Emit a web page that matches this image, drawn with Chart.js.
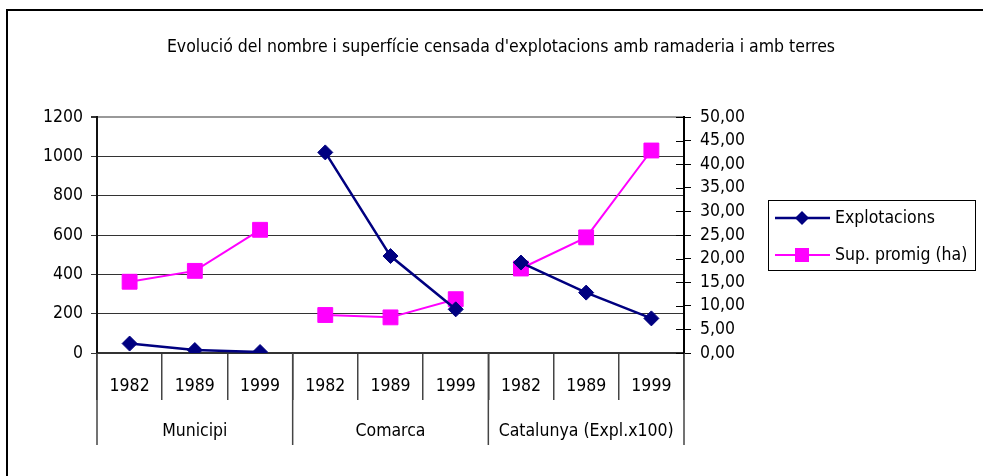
<!DOCTYPE html>
<html>
<head>
<meta charset="utf-8">
<script src="https://cdn.jsdelivr.net/npm/chart.js@4.4.1/dist/chart.umd.min.js"></script>
<style>
  html, body { margin: 0; padding: 0; background: #fff; }
  #wrap { width: 983px; height: 476px; }
</style>
</head>
<body>
<div id="wrap"><canvas id="grafic" width="983" height="476"></canvas></div>
<script>
// dades llegides del gràfic
var titol = "Evolució del nombre i superfície censada d'explotacions amb ramaderia i amb terres";
var anys = ['1982', '1989', '1999'];
var ambits = ['Municipi', 'Comarca', 'Catalunya (Expl.x100)'];
var explotacions = [48, 15, 5, 1020, 493, 222, 460, 307, 176];
var supPromig = [15.1, 17.4, 26.1, 8.05, 7.55, 11.4, 17.9, 24.5, 42.9];
var ticksEsq = [0, 200, 400, 600, 800, 1000, 1200];
var ticksDreta = [0, 5, 10, 15, 20, 25, 30, 35, 40, 45, 50];

var FONT = "'Liberation Sans Narrow', 'Arial Narrow', 'DejaVu Sans Condensed', sans-serif";
var MIDA = 17.5;
Chart.defaults.font.family = FONT;
Chart.defaults.font.size = MIDA;
Chart.defaults.color = '#000';

var etiquetes = [];
for (var g = 0; g < ambits.length; g++) {
    for (var a = 0; a < anys.length; a++) etiquetes.push(anys[a]);
}

// talla la línia entre àmbits
function tall(ctx) {
    return (ctx.p0DataIndex % anys.length === anys.length - 1) ? 'rgba(0,0,0,0)' : undefined;
}

var decorPlugin = {
    id: 'decor',
    beforeDraw: function (chart) {
        var c = chart.ctx;
        c.save();
        c.fillStyle = '#fff';
        c.fillRect(0, 0, chart.width, chart.height);
        c.strokeStyle = '#000';
        c.lineWidth = 2;
        c.strokeRect(7, 10, 1000, 500);
        c.restore();
    },
    afterDraw: function (chart) {
        var c = chart.ctx;
        var x = chart.scales.x, y1 = chart.scales.y1, area = chart.chartArea;
        c.save();
        // títol
        c.fillStyle = '#000';
        c.font = MIDA + 'px ' + FONT;
        c.textAlign = 'center';
        c.textBaseline = 'middle';
        c.fillText(titol, 501, 47);

        // separadors i noms dels àmbits
        c.strokeStyle = '#444';
        c.lineWidth = 1.5;
        var n = anys.length;
        for (var g = 0; g <= ambits.length; g++) {
            var px;
            if (g === 0) px = x.left;
            else if (g === ambits.length) px = x.right;
            else px = (x.getPixelForValue(g * n - 1) + x.getPixelForValue(g * n)) / 2;
            c.beginPath();
            c.moveTo(px, area.bottom);
            c.lineTo(px, 445);
            c.stroke();
        }
        for (var g = 0; g < ambits.length; g++) {
            var cx = (x.getPixelForValue(g * n) + x.getPixelForValue(g * n + n - 1)) / 2;
            c.fillText(ambits[g], cx, 431);
        }

        // marques interiors de l'eix dret
        c.strokeStyle = '#000';
        c.lineWidth = 1;
        for (var i = 0; i < ticksDreta.length; i++) {
            var py = Math.round(y1.getPixelForValue(ticksDreta[i])) + 0.5;
            c.beginPath();
            c.moveTo(y1.left - 8, py);
            c.lineTo(y1.left, py);
            c.stroke();
        }

        // llegenda
        c.lineWidth = 1;
        c.strokeStyle = '#000';
        c.strokeRect(768.5, 200.5, 207, 70);
        var files = [218, 255];
        chart.data.datasets.forEach(function (ds, k) {
            var ly = files[k];
            c.strokeStyle = ds.borderColor;
            c.lineWidth = ds.borderWidth;
            c.beginPath();
            c.moveTo(775, ly);
            c.lineTo(830, ly);
            c.stroke();
            c.fillStyle = ds.pointBackgroundColor;
            c.beginPath();
            if (ds.pointStyle === 'rectRot') {
                c.moveTo(802, ly - 7); c.lineTo(809, ly); c.lineTo(802, ly + 7); c.lineTo(795, ly);
            } else {
                c.rect(795, ly - 7, 14, 14);
            }
            c.closePath();
            c.fill();
            c.fillStyle = '#000';
            c.textAlign = 'left';
            c.fillText(ds.label, 835, ly);
        });
        c.restore();
    }
};

var grafic = new Chart(document.getElementById('grafic'), {
    type: 'line',
    data: {
        labels: etiquetes,
        datasets: [{
            label: 'Explotacions',
            data: explotacions,
            yAxisID: 'y',
            borderColor: '#000080',
            backgroundColor: '#000080',
            pointBackgroundColor: '#000080',
            pointBorderColor: '#000080',
            borderWidth: 2.5,
            pointStyle: 'rectRot',
            pointRadius: 7.5,
            pointBorderWidth: 1,
            tension: 0,
            segment: { borderColor: tall }
        }, {
            label: 'Sup. promig (ha)',
            data: supPromig,
            yAxisID: 'y1',
            borderColor: '#FF00FF',
            backgroundColor: '#FF00FF',
            pointBackgroundColor: '#FF00FF',
            pointBorderColor: '#FF00FF',
            borderWidth: 2,
            pointStyle: 'rect',
            pointRadius: 10.5,
            pointBorderWidth: 1,
            tension: 0,
            segment: { borderColor: tall }
        }]
    },
    options: {
        responsive: false,
        animation: false,
        devicePixelRatio: 1,
        layout: { padding: { left: 40, right: 229, top: 117, bottom: 23 } },
        plugins: {
            legend: { display: false },
            title: { display: false },
            tooltip: { enabled: false }
        },
        scales: {
            x: {
                type: 'category',
                offset: true,
                grid: { offset: true, drawOnChartArea: false, tickLength: 47, color: '#444', lineWidth: 1.5 },
                border: { color: '#333', width: 2 },
                ticks: { padding: -24, maxRotation: 0, autoSkip: false },
                afterFit: function (s) { s.height = 100; }
            },
            y: {
                position: 'left',
                min: 0, max: 1200,
                afterBuildTicks: function (s) { s.ticks = ticksEsq.map(function (v) { return { value: v }; }); },
                grid: {
                    color: function (ctx) { return ctx.tick && ctx.tick.value === 1200 ? '#999' : '#333'; },
                    lineWidth: function (ctx) { return ctx.tick && ctx.tick.value === 1200 ? 2 : 1; },
                    tickColor: '#333',
                    tickLength: 6
                },
                border: { color: '#111', width: 2 },
                ticks: { padding: 8, autoSkip: false, callback: function (v) { return String(v); } },
                afterFit: function (s) { s.width = 57; }
            },
            y1: {
                position: 'right',
                min: 0, max: 50,
                afterBuildTicks: function (s) { s.ticks = ticksDreta.map(function (v) { return { value: v }; }); },
                grid: { drawOnChartArea: false, color: '#000', tickLength: 7 },
                border: { color: '#000', width: 2 },
                ticks: {
                    padding: 9,
                    autoSkip: false,
                    callback: function (v) { return v.toFixed(2).replace('.', ','); }
                },
                afterFit: function (s) { s.width = 70; }
            }
        }
    },
    plugins: [decorPlugin]
});
</script>
</body>
</html>
